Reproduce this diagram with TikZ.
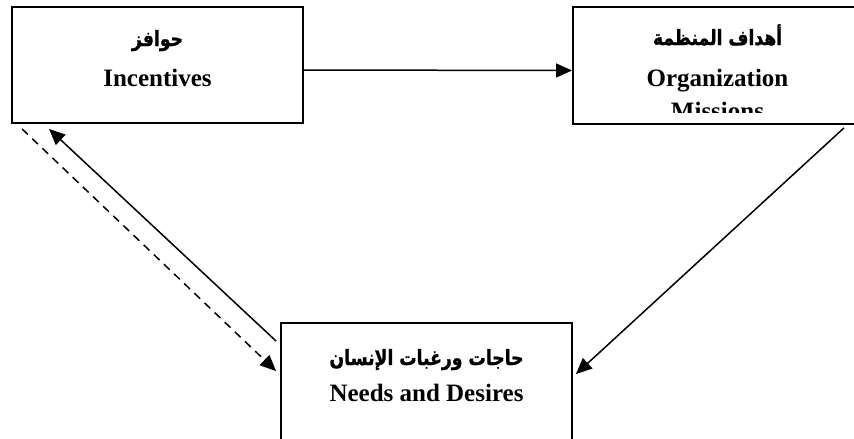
\documentclass[tikz,border=0pt]{standalone}
\usepackage{fontspec}
\setmainfont{Liberation Serif}
\newfontfamily\arabicfont[Script=Arabic,FakeStretch=0.82,BoldFeatures={FakeBold=1.2}]{DejaVu Sans}
\TeXXeTstate=1
\usetikzlibrary{arrows.meta}
\begin{document}
\begin{tikzpicture}[x=1pt,y=-1pt,
  box/.style={draw,line width=1.9pt,rectangle,inner sep=0pt},
  entext/.style={font=\fontsize{25}{30}\selectfont\bfseries,anchor=base,inner sep=0pt},
  artext/.style={font=\arabicfont\fontsize{21}{24}\selectfont\bfseries,anchor=base,inner sep=0pt},
  conn/.style={line width=1.5pt,-{Triangle[length=16pt,width=14pt]}},
  dashconn/.style={conn,dash pattern=on 8pt off 6pt}]
\clip (0,0) rectangle (854,439);
% boxes
\node[box,minimum width=291pt,minimum height=116pt] (A) at (157.5,65) {};
\node[box,minimum width=289pt,minimum height=117pt] (B) at (717.5,65.5) {};
\node[box,minimum width=291pt,minimum height=119pt] (C) at (426.5,382.5) {};
% texts
\node[artext] (At1) at ([shift={(0,40)}]A.north) {\beginR حوافز\endR};
\node[entext] (At2) at ([shift={(0,80)}]A.north) {Incentives};
\node[artext] (Bt1) at ([shift={(0,39)}]B.north) {\beginR أهداف المنظمة\endR};
\node[entext] (Bt2) at ([shift={(0,80)}]B.north) {Organization};
\begin{scope}
  \clip (B.north west) rectangle ([shift={(0,-12.5)}]B.south east);
  \node[entext] (Bt3) at ([shift={(0,113)}]B.north) {Missions};
\end{scope}
\node[artext] (Ct1) at ([shift={(0,43)}]C.north) {\beginR حاجات ورغبات الإنسان\endR};
\node[entext] (Ct2) at ([shift={(0,79)}]C.north) {Needs and Desires};
% connectors
\draw[conn] ([shift={(0,5)}]A.east) -- ([shift={(0,5)}]B.west);
\draw[conn] ([shift={(-19,3)}]B.south east) -- ([shift={(3,52)}]C.north east);
\draw[conn] ([shift={(-4,19)}]C.north west) -- ([shift={(38,5)}]A.south west);
\draw[dashconn] ([shift={(11,5)}]A.south west) -- ([shift={(-4,49)}]C.north west);
\end{tikzpicture}
\end{document}
